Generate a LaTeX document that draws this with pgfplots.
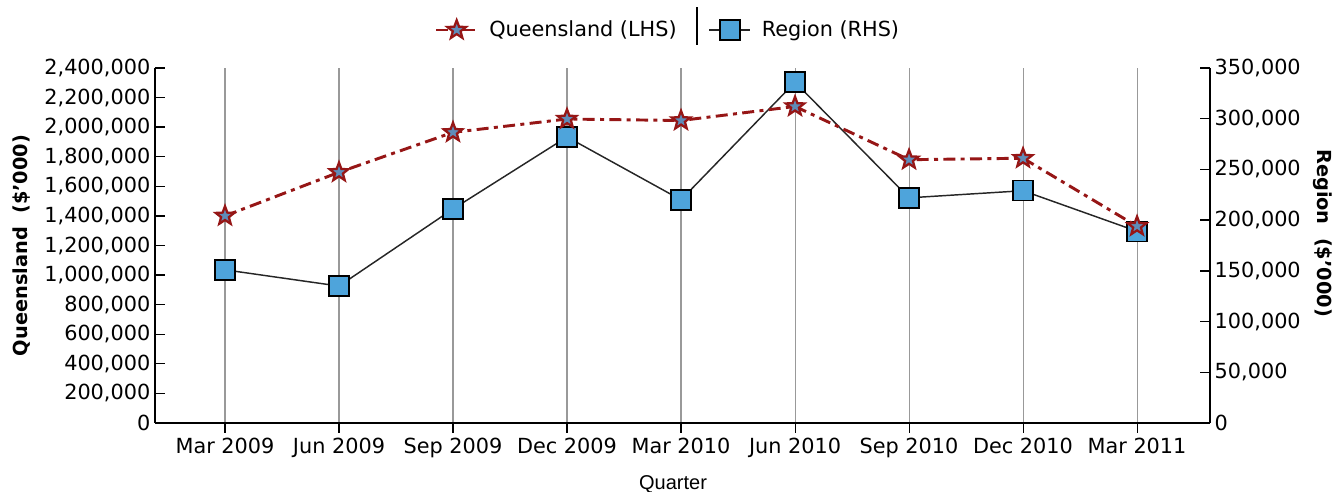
\documentclass[border=0pt]{standalone}
\usepackage{pgfplots}
\pgfplotsset{compat=1.18}
\usepackage{fontspec}
\setmainfont{DejaVu Sans}
\newfontfamily\arialfont{Liberation Sans}
\definecolor{qred}{RGB}{150,22,22}
\definecolor{rblue}{RGB}{78,164,219}
\definecolor{sfill}{RGB}{95,140,185}
\pgfdeclareplotmark{fivestar}{%
  \pgfpathmoveto{\pgfpointpolar{90}{\pgfplotmarksize}}%
  \pgfpathlineto{\pgfpointpolar{126}{0.42\pgfplotmarksize}}%
  \pgfpathlineto{\pgfpointpolar{162}{\pgfplotmarksize}}%
  \pgfpathlineto{\pgfpointpolar{198}{0.42\pgfplotmarksize}}%
  \pgfpathlineto{\pgfpointpolar{234}{\pgfplotmarksize}}%
  \pgfpathlineto{\pgfpointpolar{270}{0.42\pgfplotmarksize}}%
  \pgfpathlineto{\pgfpointpolar{306}{\pgfplotmarksize}}%
  \pgfpathlineto{\pgfpointpolar{342}{0.42\pgfplotmarksize}}%
  \pgfpathlineto{\pgfpointpolar{18}{\pgfplotmarksize}}%
  \pgfpathlineto{\pgfpointpolar{54}{0.42\pgfplotmarksize}}%
  \pgfpathclose
  \pgfusepathqfillstroke}
\pgfplotsset{
  qstyle/.style={qred, line width=2.2pt, dash pattern=on 9pt off 4pt on 3pt off 4pt,
    mark=fivestar, mark size=7.3pt, mark options={solid, draw=qred, fill=sfill, line width=1.7pt}},
  rstyle/.style={black!85, line width=1.1pt, mark=square*, mark size=7.5pt,
    mark options={solid, draw=black, fill=rblue, line width=1.1pt}},
}
\pgfplotstableread{
x q r
0 1400000 151000
1 1695000 135000
2 1965000 211000
3 2055000 282000
4 2045000 220000
5 2140000 336000
6 1780000 222000
7 1790000 229000
8 1330000 189000
}\data
\begin{document}
\begin{tikzpicture}
\useasboundingbox (-116.25pt,-51.75pt) rectangle (885pt,317.25pt);
% Right axis (Region) + grid + x axis
\begin{axis}[
  at={(0,0)}, anchor=south west,
  scale only axis, width=791.25pt, height=266.25pt,
  xmin=-0.614, xmax=8.64,
  ymin=0, ymax=350000,
  axis x line*=bottom, axis y line*=right,
  axis line style={line width=1pt, -},
  xtick={0,...,8},
  xticklabels={Mar 2009,Jun 2009,Sep 2009,Dec 2009,Mar 2010,Jun 2010,Sep 2010,Dec 2010,Mar 2011},
  x tick style={draw=black, line width=0.8pt},
  xtick align=outside, major tick length=7.5pt,
  xmajorgrids, grid style={gray!80, line width=0.8pt},
  ytick={0,50000,...,350000},
  y tick style={draw=black, line width=1pt},
  ytick align=inside,
  scaled y ticks=false,
  yticklabel style={/pgf/number format/fixed, /pgf/number format/1000 sep={,}},
  /pgf/number format/assume math mode=true,
  tick label style={font=\fontsize{15.6pt}{18pt}\selectfont},
  ylabel={Region\ \ (\$'000)},
  ylabel style={font=\fontsize{14.5pt}{17pt}\selectfont\bfseries, rotate=180,
     at={(axis description cs:1.107,0.535)}, anchor=center},
  xlabel={Quarter},
  xlabel style={font=\arialfont\fontsize{15pt}{17pt}\selectfont,
     at={(axis description cs:0.491,-0.172)}, anchor=center},
  clip=false,
]
\addplot[rstyle] table[x=x, y=r] {\data};
\end{axis}
% Left axis (Queensland)
\begin{axis}[
  at={(0,0)}, anchor=south west,
  scale only axis, width=791.25pt, height=266.25pt,
  xmin=-0.614, xmax=8.64,
  ymin=0, ymax=2400000,
  axis x line=none, axis y line*=left,
  axis line style={line width=1pt, -},
  ytick={0,200000,...,2400000},
  y tick style={draw=black, line width=1pt},
  ytick align=inside, major tick length=7.5pt,
  scaled y ticks=false,
  yticklabel style={/pgf/number format/fixed, /pgf/number format/1000 sep={,}},
  /pgf/number format/assume math mode=true,
  tick label style={font=\fontsize{15.6pt}{18pt}\selectfont},
  ylabel={Queensland\ \ (\$'000)},
  ylabel style={font=\fontsize{14.5pt}{17pt}\selectfont\bfseries,
     at={(axis description cs:-0.126,0.5)}, anchor=center},
  clip=false,
  legend columns=2,
  legend style={draw=none, fill=none, at={(axis description cs:0.4865,1.107)}, anchor=center,
    font=\fontsize{15.6pt}{18pt}\selectfont,
    /tikz/every odd column/.append style={column sep=6pt},
    /tikz/every even column/.append style={column sep=22pt}},
  legend image code/.code={%
    \draw[mark repeat=2,mark phase=2] plot coordinates {(0cm,0cm) (0.54cm,0cm) (1.08cm,0cm)};},
]
\addplot[qstyle] table[x=x, y=q] {\data};
\addlegendentry{Queensland (LHS)}
\addlegendimage{rstyle}
\addlegendentry{Region (RHS)}
\draw[black, line width=1pt] (axis description cs:0.5137,1.065) -- (axis description cs:0.5137,1.172);
\end{axis}
\end{tikzpicture}
\end{document}
